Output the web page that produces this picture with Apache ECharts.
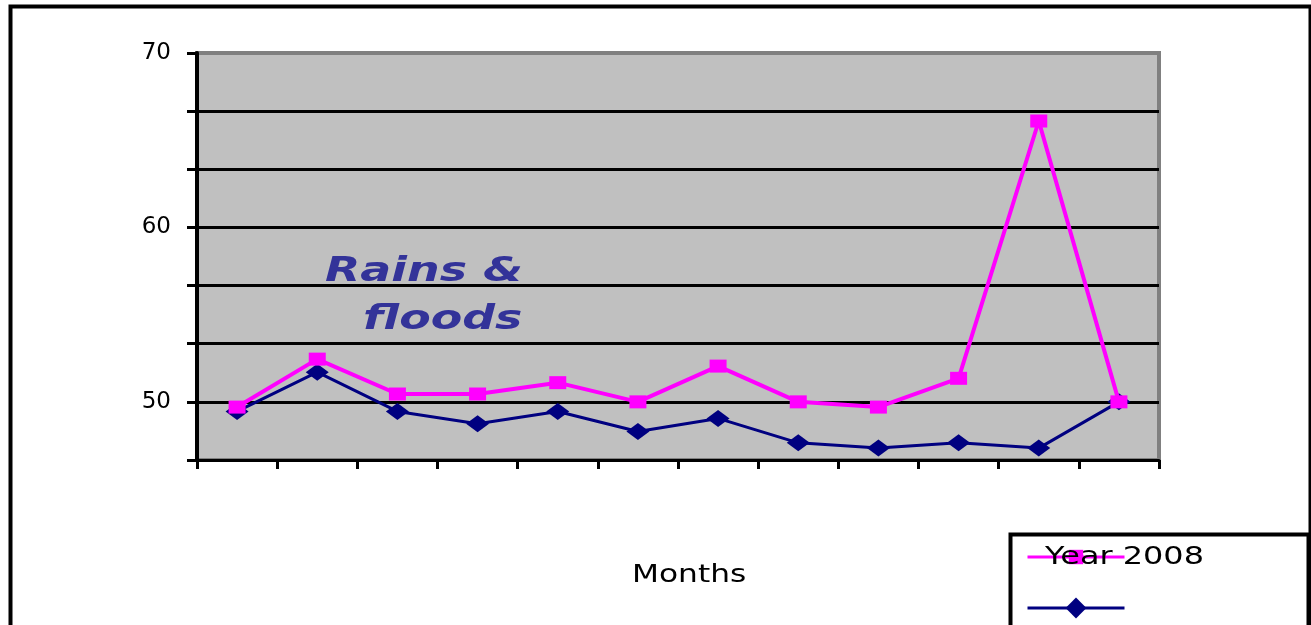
<!DOCTYPE html>
<html>
<head>
<meta charset="utf-8">
<script src="https://cdn.jsdelivr.net/npm/echarts@6/dist/echarts.min.js"></script>
<style>
  html, body { margin: 0; padding: 0; background: #fff; }
  #chart { width: 1311px; height: 625px; }
</style>
</head>
<body>
<div id="chart"></div>
<script>
// months (no labels drawn on the axis in the original)
var months = ['Jan', 'Feb', 'Mar', 'Apr', 'May', 'Jun', 'Jul', 'Aug', 'Sep', 'Oct', 'Nov', 'Dec'];
var year2008 = [49.7, 52.45, 50.45, 50.45, 51.1, 50.0, 52.05, 50.0, 49.7, 51.35, 66.1, 50.0];
var otherYear = [49.45, 51.7, 49.45, 48.75, 49.45, 48.3, 49.05, 47.65, 47.35, 47.65, 47.35, 50.0];
var yTickLabels = [50, 60, 70];

var chart = echarts.init(document.getElementById('chart'));

// gridlines are black, the top edge (70) stays the grey frame colour
var gridColors = ['#000', '#000', '#000', '#000', '#000', '#000', '#000', '#808080'];

chart.setOption({
    backgroundColor: '#fff',
    animation: false,
    textStyle: { fontFamily: 'DejaVu Sans' },
    grid: {
        left: 197, right: 152, top: 53, bottom: 165,
        show: true,
        backgroundColor: '#C0C0C0',
        borderColor: '#808080',
        borderWidth: 4
    },
    legend: [
        {
            left: 1021, top: 543,
            itemWidth: 97, itemHeight: 18,
            lineStyle: { width: 3 },
            data: ['Year 2008'],
            formatter: function () { return ''; }
        },
        {
            left: 1021, top: 590,
            itemWidth: 97, itemHeight: 26,
            lineStyle: { width: 3 },
            data: [' '],
            formatter: function () { return ''; }
        }
    ],
    xAxis: {
        type: 'category',
        data: months,
        boundaryGap: true,
        axisLine: { lineStyle: { color: '#000', width: 3 } },
        axisTick: { show: true, interval: 0, length: 9, lineStyle: { color: '#000', width: 3 } },
        axisLabel: { show: false },
        splitLine: { show: false }
    },
    yAxis: {
        type: 'value',
        min: 140 / 3,
        max: 70,
        interval: 10 / 3,
        axisLine: { show: true, lineStyle: { color: '#000', width: 4 } },
        axisTick: { show: true, length: 10, lineStyle: { color: '#000', width: 3 } },
        axisLabel: {
            margin: 26,
            fontSize: 23,
            color: '#000',
            formatter: function (v) {
                for (var i = 0; i < yTickLabels.length; i++) {
                    if (Math.abs(v - yTickLabels[i]) < 0.01) return String(yTickLabels[i]);
                }
                return '';
            }
        },
        splitLine: { show: true, lineStyle: { color: gridColors, width: 3 } }
    },
    series: [
        {
            name: 'Year 2008',
            type: 'line',
            data: year2008,
            z: 3,
            symbol: 'rect',
            symbolSize: [17, 13],
            itemStyle: { color: '#FF00FF' },
            lineStyle: { color: '#FF00FF', width: 4 }
        },
        {
            name: ' ',
            type: 'line',
            data: otherYear,
            z: 2,
            symbol: 'diamond',
            symbolSize: [23, 17],
            itemStyle: { color: '#000080' },
            lineStyle: { color: '#000080', width: 3 }
        }
    ],
    graphic: [
        {
            type: 'rect',
            left: 8, top: 4,
            shape: { width: 1300, height: 640 },
            style: { fill: 'none', stroke: '#000', lineWidth: 4 },
            silent: true
        },
        {
            type: 'rect',
            left: 1008, top: 532,
            shape: { width: 298, height: 120 },
            style: { fill: 'none', stroke: '#000', lineWidth: 4 },
            silent: true
        },
        {
            type: 'text',
            x: 1045, y: 546,
            scaleX: 1.33,
            z: 100,
            style: { text: 'Year 2008', font: '24px "DejaVu Sans"', fill: '#000' }
        },
        {
            type: 'text',
            x: 632, y: 563,
            scaleX: 1.25,
            style: { text: 'Months', font: '25px "DejaVu Sans"', fill: '#000' }
        },
        {
            type: 'text',
            x: 325, y: 255,
            scaleX: 1.35,
            style: { text: 'Rains &', font: 'italic bold 34px "DejaVu Sans"', fill: '#333399' }
        },
        {
            type: 'text',
            x: 363, y: 303,
            scaleX: 1.35,
            style: { text: 'floods', font: 'italic bold 34px "DejaVu Sans"', fill: '#333399' }
        }
    ]
});
</script>
</body>
</html>
